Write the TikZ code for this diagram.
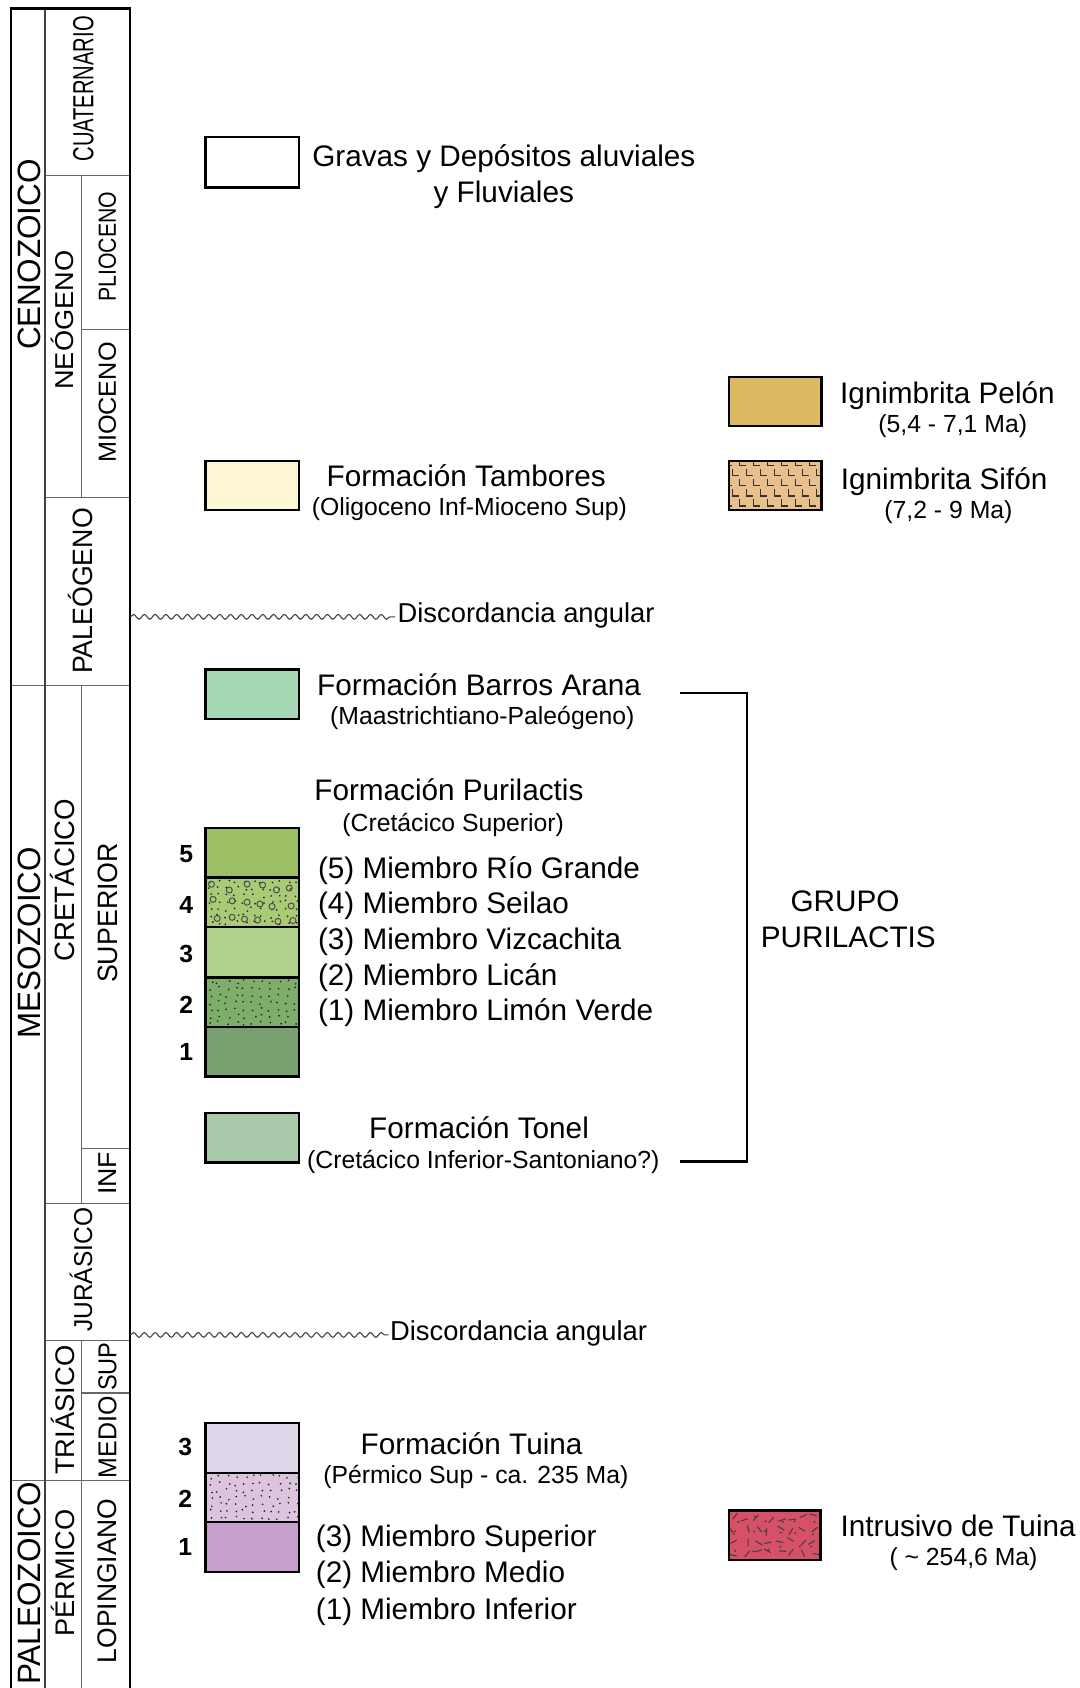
\documentclass[tikz,border=0pt]{standalone}
\usepackage{fontspec}
\setmainfont{Liberation Sans}
\usepackage{graphicx}
\usetikzlibrary{decorations.pathmorphing}
\definecolor{cPelon}{HTML}{DDBA62}
\definecolor{cSifon}{HTML}{E9BF8B}
\definecolor{cTamb}{HTML}{FCF7D2}
\definecolor{cBarros}{HTML}{A7D8B6}
\definecolor{cPfive}{HTML}{9CBF63}
\definecolor{cPfour}{HTML}{A9CB76}
\definecolor{cPthree}{HTML}{B1D28C}
\definecolor{cPtwo}{HTML}{7FAE6C}
\definecolor{cPone}{HTML}{7A9F70}
\definecolor{cTonel}{HTML}{A8C9A9}
\definecolor{cTthree}{HTML}{DED7EA}
\definecolor{cTtwo}{HTML}{DCC4DE}
\definecolor{cTone}{HTML}{C6A0CA}
\definecolor{cIntr}{HTML}{D65168}
\newcommand\collab[7]{\node[collbl, text height=#5pt, font=\fontsize{#4}{#4}\selectfont] (#1) at (#2,#3) {\resizebox{#6pt}{\height}{#7}};}
\tikzset{
  lboxline/.style={draw=black, line width=1.1pt},
  mainlbl/.style={font=\fontsize{13.8}{16}\selectfont, inner sep=0pt, anchor=base},
  disclbl/.style={font=\fontsize{12.7}{15}\selectfont, inner sep=0pt, anchor=base west},
  sublbl/.style={font=\fontsize{11.5}{14}\selectfont, inner sep=0pt, anchor=base},
  numlbl/.style={font=\fontsize{11.5}{14}\selectfont\bfseries, inner sep=0pt, text height=8.2pt, text depth=0pt},
  collbl/.style={rotate=90, inner sep=0pt, text depth=0pt},
  outerline/.style={line width=1.1pt, black},
  innerline/.style={line width=0.6pt, black!60},
  wavy/.style={decorate, decoration={snake, segment length=5pt, amplitude=1.1pt}, line width=0.5pt, black!75},
  dot/.style={fill=black!85},
}
\begin{document}
\begin{tikzpicture}[x=0.5pt,y=-0.5pt]
\useasboundingbox (0,0) rectangle (1003,1568);
\fill[white] (0,0) rectangle (1003,1568);

% ---------- chronostratigraphic column ----------
\draw[innerline] (42,163) -- (121,163);
\draw[innerline] (76,163) -- (76,462);
\draw[innerline] (76,306) -- (121,306);
\draw[innerline] (42,462) -- (121,462);
\draw[innerline] (76,637) -- (76,1118);
\draw[innerline] (76,1067) -- (121,1067);
\draw[innerline] (42,1118) -- (121,1118);
\draw[innerline] (42,1245) -- (121,1245);
\draw[innerline] (76,1245) -- (76,1568);
\draw[innerline] (76,1294) -- (121,1294);
\draw[innerline] (10,637) -- (121,637);
\draw[innerline] (10,1375) -- (121,1375);
\draw[innerline, line width=0.8pt, black!75] (42,8) -- (42,1568);
\draw[outerline] (10,1568) -- (10,8) -- (121,8) -- (121,1568);

\collab{ceno}{27}{236.5}{15}{10.74}{88.5}{CENOZOICO}
\collab{meso}{27}{876}{15}{10.74}{89}{MESOZOICO}
\collab{paleo}{27}{1471}{15}{10.74}{94}{PALEOZOICO}
\collab{cuat}{77}{82.5}{13.5}{9.67}{67.5}{CUATERNARIO}
\collab{neog}{60}{297.5}{12}{8.59}{64.5}{NEÓGENO}
\collab{plio}{99.5}{229}{11.5}{8.23}{51}{PLIOCENO}
\collab{mioc}{99.5}{374}{11.5}{8.23}{56}{MIOCENO}
\collab{paleog}{77}{549}{13}{9.31}{77}{PALEÓGENO}
\collab{cret}{60}{817.5}{13}{9.31}{75.5}{CRETÁCICO}
\collab{sup}{99.5}{848}{13}{9.31}{65}{SUPERIOR}
\collab{inf}{99.5}{1090}{12}{8.59}{20}{INF}
\collab{jura}{77}{1179.5}{12}{8.59}{57.5}{JURÁSICO}
\collab{tria}{60}{1310}{12.5}{8.95}{60}{TRIÁSICO}
\collab{trsup}{99.5}{1269.5}{12}{8.59}{22.5}{SUP}
\collab{trmed}{99.5}{1335}{12}{8.59}{38}{MEDIO}
\collab{perm}{60}{1461}{12.5}{8.95}{59}{PÉRMICO}
\collab{loping}{99.5}{1468.5}{12.5}{8.95}{76.5}{LOPINGIANO}

% ---------- Gravas ----------
\draw[lboxline, fill=white] (191,127) rectangle (278,174);
\node[mainlbl] (grav1) at (468,155) {Gravas y Depósitos aluviales};
\node[mainlbl] (grav2) at (468,188) {y Fluviales};

% ---------- Ignimbrita Pelon ----------
\draw[lboxline, fill=cPelon] (677,350) rectangle (763,396);
\node[mainlbl] (pelon1) at (880,375) {Ignimbrita Pelón};
\node[sublbl] (pelon2) at (885,402) {(5,4 - 7,1 Ma)};

% ---------- Ignimbrita Sifon ----------
\fill[cSifon] (677,428) rectangle (763,474);
\begin{scope}
\clip (677,428) rectangle (763,474);
\foreach \r in {0,...,5}{
  \pgfmathsetmacro\off{mod(\r,2)*6.5}
  \foreach \c in {0,...,7}{
    \draw[line width=0.8pt, black!80] (674+\off+\c*13,426+\r*9.3) -- ++(0,6.5) -- ++(6,0);
  }
}
\end{scope}
\draw[lboxline] (677,428) rectangle (763,474);
\node[mainlbl] (sifon1) at (877,455) {Ignimbrita Sifón};
\node[sublbl] (sifon2) at (881,482) {(7,2 - 9 Ma)};

% ---------- Tambores ----------
\draw[lboxline, fill=cTamb] (191,428) rectangle (278,474);
\node[mainlbl] (tamb1) at (433,452) {Formación Tambores};
\node[sublbl] (tamb2) at (436,479) {(Oligoceno Inf-Mioceno Sup)};

% ---------- Discordancia 1 ----------
\node[disclbl] (disc1) at (369,578) {Discordancia angular};
\coordinate (w1s) at (121,573);
\coordinate (w1e) at (367,573);
\draw[wavy] (w1s) -- (w1e);

% ---------- Barros Arana ----------
\draw[lboxline, fill=cBarros] (191,622) rectangle (278,668);
\node[mainlbl] (barr1) at (445,646) {Formación Barros Arana};
\node[sublbl] (barr2) at (448,673) {(Maastrichtiano-Paleógeno)};

% ---------- Purilactis ----------
\node[mainlbl] (puri1) at (417,744) {Formación Purilactis};
\node[sublbl] (puri2) at (421,772) {(Cretácico Superior)};
\fill[cPfive] (191,769) rectangle (278,815);
\fill[cPfour] (191,815) rectangle (278,861);
\fill[cPthree] (191,861) rectangle (278,908);
\fill[cPtwo] (191,908) rectangle (278,954);
\fill[cPone] (191,954) rectangle (278,1000);
\begin{scope}
\clip (191,815) rectangle (278,861);
\pgfmathsetseed{11}
\foreach \i in {0,...,10}{
  \foreach \j in {0,...,6}{
    \fill[dot] (193+\i*8+rnd*5, 817+\j*6.4+rnd*4) circle (0.45pt);
  }
}
\pgfmathsetseed{5}
\foreach \i in {0,...,5}{
  \foreach \j in {0,...,2}{
    \draw[line width=0.45pt, black!70] (196+\i*14+rnd*8, 821+\j*14+rnd*7) circle (1.4pt);
  }
}
\end{scope}
\begin{scope}
\clip (191,908) rectangle (278,954);
\pgfmathsetseed{23}
\foreach \i in {0,...,10}{
  \foreach \j in {0,...,6}{
    \fill[dot] (193+\i*8+rnd*5, 910+\j*6.4+rnd*4) circle (0.45pt);
  }
}
\end{scope}
\foreach \ya/\yb in {769/815,815/861,861/908,908/954,954/1000}{
  \draw[lboxline] (191,\ya) rectangle (278,\yb);
}
\node[numlbl] (pn5) at (173,793) {5};
\node[numlbl] (pn4) at (173,840) {4};
\node[numlbl] (pn3) at (173,886) {3};
\node[numlbl] (pn2) at (173,933) {2};
\node[numlbl] (pn1) at (173,977) {1};
\node[mainlbl, anchor=base west] (pm5) at (295,816) {(5) Miembro Río Grande};
\node[mainlbl, anchor=base west] (pm4) at (295,849) {(4) Miembro Seilao};
\node[mainlbl, anchor=base west] (pm3) at (295,882) {(3) Miembro Vizcachita};
\node[mainlbl, anchor=base west] (pm2) at (295,915) {(2) Miembro Licán};
\node[mainlbl, anchor=base west] (pm1) at (295,948) {(1) Miembro Limón Verde};

% ---------- Tonel ----------
\draw[lboxline, fill=cTonel] (191,1034) rectangle (278,1080);
\node[mainlbl] (ton1) at (445,1058) {Formación Tonel};
\node[sublbl] (ton2) at (449,1085) {(Cretácico Inferior-Santoniano?)};

% ---------- bracket ----------
\coordinate (brA) at (632,644);
\coordinate (brT) at (632,1079);
\draw[line width=1.1pt] (brA) -- ++(62,0) |- (brT);
\node[mainlbl] (grupo1) at (785,847) {GRUPO};
\node[mainlbl] (grupo2) at (788,880) {PURILACTIS};

% ---------- Discordancia 2 ----------
\node[disclbl] (disc2) at (362,1245) {Discordancia angular};
\coordinate (w2s) at (121,1240);
\coordinate (w2e) at (361,1240);
\draw[wavy] (w2s) -- (w2e);

% ---------- Tuina ----------
\node[mainlbl] (tui1) at (438,1351) {Formación Tuina};
\node[sublbl] (tui2) at (442,1378) {(Pérmico Sup - ca. 235 Ma)};
\fill[cTthree] (191,1322) rectangle (278,1368);
\fill[cTtwo] (191,1368) rectangle (278,1414);
\fill[cTone] (191,1414) rectangle (278,1460);
\begin{scope}
\clip (191,1368) rectangle (278,1414);
\pgfmathsetseed{37}
\foreach \i in {0,...,10}{
  \foreach \j in {0,...,6}{
    \fill[dot] (193+\i*8+rnd*5, 1370+\j*6.4+rnd*4) circle (0.45pt);
  }
}
\end{scope}
\foreach \ya/\yb in {1322/1368,1368/1414,1414/1460}{
  \draw[lboxline] (191,\ya) rectangle (278,\yb);
}
\node[numlbl] (tn3) at (172,1344) {3};
\node[numlbl] (tn2) at (172,1392) {2};
\node[numlbl] (tn1) at (172,1437) {1};
\node[mainlbl, anchor=base west] (tm3) at (293,1437) {(3) Miembro Superior};
\node[mainlbl, anchor=base west] (tm2) at (293,1470) {(2) Miembro Medio};
\node[mainlbl, anchor=base west] (tm1) at (293,1504) {(1) Miembro Inferior};

% ---------- Intrusivo ----------
\fill[cIntr] (677,1403) rectangle (762,1449);
\begin{scope}
\clip (677,1403) rectangle (762,1449);
\pgfmathsetseed{91}
\foreach \i in {0,...,7}{
  \foreach \j in {0,...,3}{
    \pgfmathsetmacro\ang{rnd*360}
    \pgfmathsetmacro\xx{680+\i*10.5+rnd*5}
    \pgfmathsetmacro\yy{1407+\j*11+rnd*5}
    \draw[line width=0.5pt, black!75] ([shift={(\ang:-3.5)}]\xx,\yy) -- ++(\ang:7);
  }
}
\pgfmathsetseed{17}
\foreach \i in {0,...,5}{
  \foreach \j in {0,...,2}{
    \fill[black!80] (682+\i*14+rnd*6, 1408+\j*14+rnd*6) circle (0.45pt);
  }
}
\end{scope}
\draw[lboxline] (677,1403) rectangle (762,1449);
\node[mainlbl] (intr1) at (890,1427) {Intrusivo de Tuina};
\node[sublbl] (intr2) at (895,1454) {( \textasciitilde{} 254,6 Ma)};
\end{tikzpicture}
\end{document}
